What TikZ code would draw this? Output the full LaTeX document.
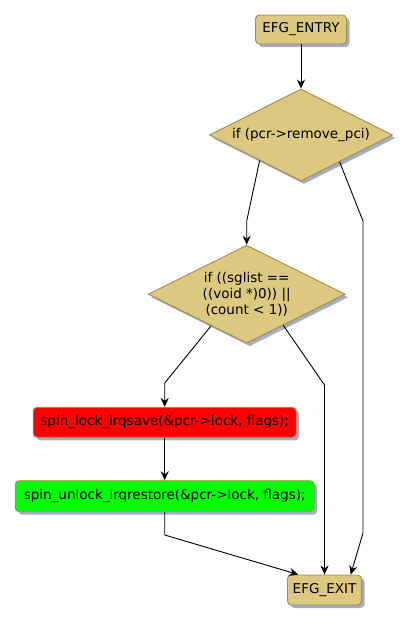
\documentclass[tikz,border=0pt]{standalone}
\usepackage{fontspec}
\setmainfont{DejaVu Sans}
\usetikzlibrary{arrows.meta, positioning, shapes.geometric, calc, shadows}
\definecolor{cgold}{HTML}{DCC87E}
\definecolor{cedge}{HTML}{A08C50}
\definecolor{cshade}{HTML}{A4ACC8}
\definecolor{cred}{HTML}{FF0000}
\definecolor{cgreen}{HTML}{00FF00}
\tikzset{
  every picture/.style={font=\fontsize{13.5}{16}\selectfont, line width=0.9pt, x=1pt, y=-1pt},
  blk/.style={draw=cedge, fill=#1, rounded corners=4pt, align=center, inner sep=2pt,
    drop shadow={shadow xshift=3pt, shadow yshift=-3pt, fill=cshade, opacity=1}},
  blk/.default=cgold,
  cond/.style={diamond, aspect=2, draw=cedge, fill=cgold, inner sep=0pt, align=center,
    drop shadow={shadow xshift=3pt, shadow yshift=-3pt, fill=cshade, opacity=1}},
  arrow/.style={-{Stealth[length=9pt, width=8pt, inset=3pt]}, draw=black},
}
\begin{document}
\begin{tikzpicture}
  \useasboundingbox (0,0) rectangle (411,624);
  \node[blk, minimum width=91pt, minimum height=29pt] (entry) at (301,29.5) {EFG\_ENTRY};
  \node[cond, minimum width=183pt, minimum height=92pt] (c1) at (301,135) {if (pcr->remove\_pci)};
  \node[cond, minimum width=197pt, minimum height=98pt] (c2) at (246.7,294.2) {if ((sglist ==\\((void *)0)) ||\\(count < 1))};
  \node[blk=cred, minimum width=263pt, minimum height=30pt] (lock) at (164.7,422.3) {spin\_lock\_irqsave(\&pcr->lock, flags);};
  \node[blk=cgreen, minimum width=299pt, minimum height=31pt] (unlock) at (164.7,496.2) {spin\_unlock\_irqrestore(\&pcr->lock, flags);};
  \node[blk, minimum width=74pt, minimum height=30pt] (exit) at (324.5,590) {EFG\_EXIT};
  % bends of the edges
  \coordinate (k1) at (246.7,221);
  \coordinate (k2) at (363,221);
  \coordinate (k3) at (363,533);
  \coordinate (k4) at (164.7,383);
  \coordinate (k5) at (324.5,385);
  \coordinate (k6) at (164.7,535);
  \draw[arrow] (entry) -- (c1);
  \draw[arrow] ($(c1.south)!0.45!(c1.west)$) -- (k1) -- (c2.north);
  \draw[arrow] ($(c1.south)!0.42!(c1.east)$) -- (k2) -- (k3) -- ($(exit.north)!0.7!(exit.north east)$);
  \draw[arrow] ($(c2.south)!0.36!(c2.west)$) -- (k4) -- (lock.north);
  \draw[arrow] ($(c2.south)!0.37!(c2.east)$) -- (k5) -- (exit.north);
  \draw[arrow] (lock) -- (unlock);
  \draw[arrow] (unlock.south) -- (k6) -- ($(exit.north)!0.7!(exit.north west)$);
\end{tikzpicture}
\end{document}
